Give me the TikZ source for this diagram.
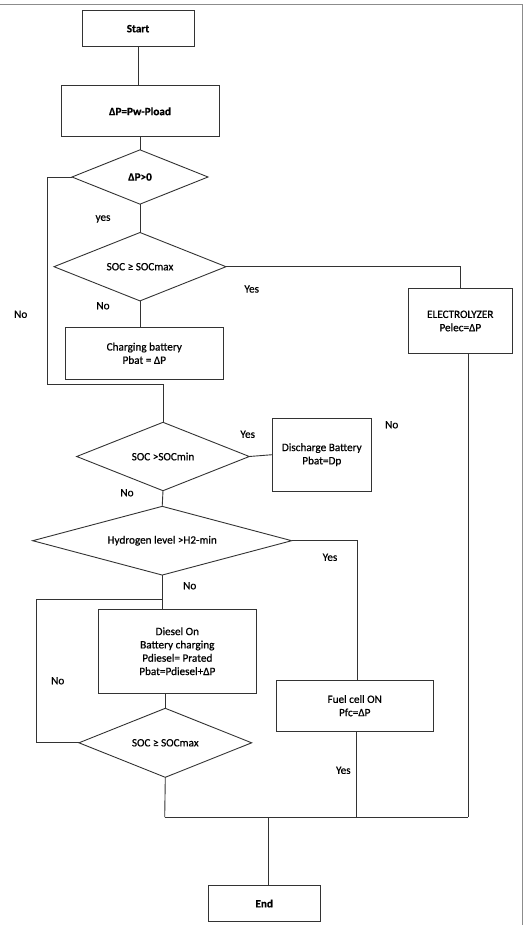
\documentclass[tikz,border=0pt]{standalone}
\usepackage{fontspec}
\setmainfont{Carlito}[FakeBold=0.6]
\newfontfamily\boldish{Carlito}[FakeBold=0.6]
\usetikzlibrary{shapes.geometric}
\begin{document}
\begin{tikzpicture}[x=1pt,y=-1pt,
  every node/.style={font=\fontsize{11.2}{13.3}\selectfont, text=black},
  box/.style={draw=black!80, line width=0.9pt, rectangle, inner sep=0pt, outer sep=0pt, align=center},
  dec/.style={draw=black!80, line width=0.9pt, diamond, inner sep=0pt, outer sep=0pt, align=center},
  bld/.style={font=\fontsize{11.2}{13.3}\selectfont\bfseries},
  lbl/.style={inner sep=0pt},
  conn/.style={draw=black!80, line width=0.9pt}]
\useasboundingbox (0,0) rectangle (523,925);
\draw[black!45, line width=1.3pt] (0,4.7) -- (522.3,4.7) -- (522.3,925);

\node[box, bld, minimum width=112pt, minimum height=36pt] (start) at (138,28.7) {Start};
\node[box, bld, minimum width=158pt, minimum height=50.7pt] (dp) at (140,111.3) {ΔP=Pw-Pload};
\node[dec, bld, minimum width=136pt, minimum height=54.3pt, aspect=2.5] (d1) at (140,177) {ΔP>0};
\node[dec, minimum width=172pt, minimum height=68.4pt, aspect=2.5] (d2) at (140,266.7) {SOC ≥ SOCmax};
\node[box, minimum width=104.7pt, minimum height=64.7pt] (elec) at (460.3,321) {ELECTROLYZER\\Pelec=ΔP};
\node[box, minimum width=157.3pt, minimum height=51.3pt] (charge) at (144.3,353.3) {Charging battery\\Pbat = ΔP};
\node[dec, minimum width=172.6pt, minimum height=68.4pt, aspect=2.5] (d3) at (163,456.5) {SOC >SOCmin};
\node[box, minimum width=99pt, minimum height=72.7pt] (dis) at (321.8,454.7) {Discharge Battery\\Pbat=Dp};
\node[dec, minimum width=259pt, minimum height=68.7pt, aspect=3.77] (d4) at (162.2,540.7) {Hydrogen level >H2-min};
\node[box, minimum width=157.3pt, minimum height=84.3pt] (diesel) at (177.3,651.2) {Diesel On\\Battery charging\\Pdiesel= Prated\\Pbat=Pdiesel+ΔP};
\node[dec, minimum width=172.7pt, minimum height=69pt, aspect=2.5] (d5) at (165.3,742.8) {SOC ≥ SOCmax};
\node[box, minimum width=157.3pt, minimum height=51.3pt] (fuel) at (354.7,705.7) {Fuel cell ON\\Pfc=ΔP};
\node[box, bld, minimum width=111.7pt, minimum height=35.7pt] (end) at (264.2,903.5) {End};

% labels
\node[lbl] (l1) at (103,219) {yes};
\node[lbl] (l2) at (251.7,289) {Yes};
\node[lbl] (l3) at (103,305.7) {No};
\node[lbl] (l4) at (20.7,314.3) {No};
\node[lbl] (l5) at (247.7,434.3) {Yes};
\node[lbl] (l6) at (391.7,424.7) {No};
\node[lbl] (l7) at (127,492.7) {No};
\node[lbl] (l8) at (330,557.3) {Yes};
\node[lbl] (l9) at (189.7,585.7) {No};
\node[lbl] (l10) at (57.7,680.7) {No};
\node[lbl] (l11) at (343.3,770.3) {Yes};

% junction coordinates
\coordinate (j1) at (47.7,384);
\coordinate (j2) at (163,384);
\coordinate (j3) at (357.7,540.7);
\coordinate (j4) at (36.7,599);
\coordinate (j5) at (162.7,599);
\coordinate (bl) at (164.7,817);
\coordinate (bm) at (356.5,817);
\coordinate (br) at (468.3,817);
\coordinate (be) at (268.7,817);

% connectors
\draw[conn] (start.south) -- (start.south |- dp.north);
\draw[conn] (dp.south) -- (d1.north);
\draw[conn] (d1.west) -| (j1) -- (j2) -- (d3.north);
\draw[conn] (d1.south) -- (d2.north);
\draw[conn] (d2.east) -| (elec.north);
\draw[conn] (d2.south) -- (d2.south |- charge.north);
\draw[conn] (d3.east) -- (dis.west);
\draw[conn] (d3.south) -- (d4.north);
\draw[conn] (d4.east) -- (j3) -- (j3 |- fuel.north);
\draw[conn] (d4.south) -- (d4.south |- diesel.north);
\draw[conn] (d5.west) -| (j4) -- (j5);
\draw[conn] (d5.north |- diesel.south) -- (d5.north);
\draw[conn] (d5.south) -- (bl);
\draw[conn] (bm |- fuel.south) -- (bm);
\draw[conn] (br |- elec.south) -- (br);
\draw[conn] (bl) -- (br);
\draw[conn] (be) -- (be |- end.north);
\end{tikzpicture}
\end{document}
